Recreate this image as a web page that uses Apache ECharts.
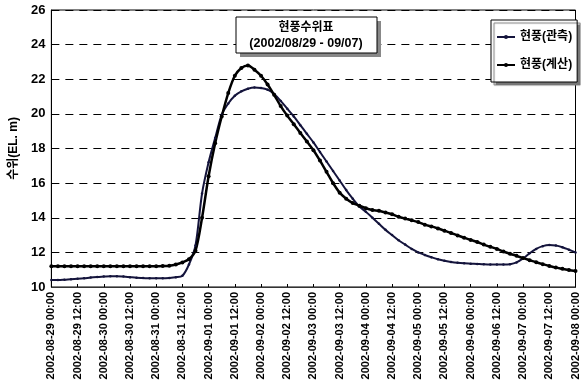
<!DOCTYPE html>
<html><head><meta charset="utf-8">
<script src="https://cdn.jsdelivr.net/npm/echarts@6/dist/echarts.min.js"></script>
<style>html,body{margin:0;padding:0;background:#fff}#c{width:581px;height:390px}</style>
</head><body><div id="c"></div>
<script>
// x-axis tick labels (every 12 hours)
const tickLabels = [
  "2002-08-29 00:00","2002-08-29 12:00","2002-08-30 00:00","2002-08-30 12:00",
  "2002-08-31 00:00","2002-08-31 12:00","2002-09-01 00:00","2002-09-01 12:00",
  "2002-09-02 00:00","2002-09-02 12:00","2002-09-03 00:00","2002-09-03 12:00",
  "2002-09-04 00:00","2002-09-04 12:00","2002-09-05 00:00","2002-09-05 12:00",
  "2002-09-06 00:00","2002-09-06 12:00","2002-09-07 00:00","2002-09-07 12:00",
  "2002-09-08 00:00"
];
// sample times: hours since 2002-08-29 00:00, every 3 hours
const hours = [0,3,6,9,12,15,18,21,24,27,30,33,36,39,42,45,48,51,54,57,60,63,66,69,72,75,78,81,84,87,90,
  93,96,99,102,105,108,111,114,117,120,123,126,129,132,135,138,141,144,147,150,153,156,159,162,165,168,
  171,174,177,180,183,186,189,192,195,198,201,204,207,210,213,216,219,222,225,228,231,234,237,240];
// 현풍(관측) observed stage (EL. m)
const observed = [10.40,10.40,10.42,10.45,10.47,10.50,10.55,10.58,10.60,10.62,10.62,10.60,10.57,10.54,10.52,10.50,10.50,10.50,10.52,10.56,10.65,11.30,12.40,15.40,17.20,18.60,19.95,20.60,21.05,21.30,21.45,
  21.52,21.50,21.40,21.15,20.75,20.30,19.85,19.35,18.85,18.35,17.80,17.25,16.70,16.15,15.60,15.10,14.65,14.35,14.00,13.65,13.30,13.00,12.70,12.45,12.20,12.00,
  11.85,11.72,11.60,11.52,11.45,11.40,11.37,11.35,11.33,11.31,11.30,11.30,11.30,11.32,11.42,11.65,11.95,12.20,12.36,12.42,12.40,12.30,12.15,12.00];
// 현풍(계산) computed stage (EL. m)
const computed = [11.20,11.20,11.20,11.20,11.20,11.20,11.20,11.20,11.20,11.20,11.20,11.20,11.20,11.20,11.20,11.20,11.20,11.21,11.23,11.30,11.42,11.60,12.10,14.00,16.40,18.30,19.85,21.20,22.20,22.65,22.80,
  22.55,22.20,21.70,21.10,20.45,19.90,19.40,18.90,18.40,17.90,17.30,16.65,16.00,15.45,15.10,14.85,14.70,14.55,14.45,14.40,14.30,14.20,14.06,13.95,13.85,13.75,
  13.60,13.50,13.38,13.25,13.12,12.98,12.85,12.72,12.60,12.45,12.32,12.20,12.05,11.92,11.80,11.67,11.55,11.43,11.32,11.22,11.12,11.05,10.98,10.92];

const FONT = "'Liberation Sans','Noto Sans CJK KR',sans-serif";
const pair = arr => hours.map((h, i) => [h, arr[i]]);

const chart = echarts.init(document.getElementById('c'), null, {renderer: 'canvas'});
chart.setOption({
  animation: false,
  backgroundColor: '#fff',
  grid: {left: 48, right: 2, top: 10, bottom: 103, show: true, borderColor: '#000', borderWidth: 1, backgroundColor: 'transparent'},
  xAxis: {
    type: 'value', min: 0, max: 240, interval: 12,
    axisLine: {lineStyle: {color: '#333', width: 1}},
    axisTick: {inside: true, length: 3, lineStyle: {color: '#000'}},
    splitLine: {show: false},
    axisLabel: {
      rotate: 90, fontSize: 11, fontWeight: 'bold', color: '#000', fontFamily: FONT, margin: 5,
      formatter: v => tickLabels[Math.round(v / 12)] || ''
    }
  },
  yAxis: {
    type: 'value', min: 10, max: 26, interval: 2,
    name: '수위(EL. m)', nameLocation: 'middle', nameGap: 31, nameRotate: 90,
    nameTextStyle: {fontSize: 12, fontWeight: 'bold', color: '#000', fontFamily: FONT},
    axisLine: {show: true, lineStyle: {color: '#000', width: 1}},
    axisTick: {show: false},
    axisLabel: {fontSize: 13, fontWeight: 'bold', color: '#000', fontFamily: FONT, margin: 6},
    splitLine: {show: true, lineStyle: {color: '#000', type: [8, 6], width: 1}}
  },
  legend: {
    orient: 'vertical', left: 491, top: 20,
    padding: [11, 5, 11, 5], itemGap: 16, itemWidth: 18, itemHeight: 5,
    backgroundColor: '#fff', borderColor: '#000', borderWidth: 1,
    shadowColor: '#777', shadowBlur: 1, shadowOffsetX: 3, shadowOffsetY: 3,
    textStyle: {fontSize: 12, fontWeight: 'bold', color: '#000', fontFamily: FONT},
    data: ['현풍(관측)', '현풍(계산)']
  },
  graphic: [
    {type: 'rect', shape: {x: 240, y: 21, width: 141, height: 36}, style: {fill: '#888'}, z: 10},
    {type: 'rect', shape: {x: 236, y: 17, width: 141, height: 36}, style: {fill: '#fff', stroke: '#000', lineWidth: 1}, z: 11},
    {type: 'text', x: 306, y: 28, style: {text: '현풍수위표', fontSize: 12, fontWeight: 'bold', fill: '#000', fontFamily: FONT, align: 'center', verticalAlign: 'middle'}, z: 12},
    {type: 'text', x: 306, y: 44, style: {text: '(2002/08/29 - 09/07)', fontSize: 12.5, fontWeight: 'bold', fill: '#000', fontFamily: FONT, align: 'center', verticalAlign: 'middle'}, z: 12}
  ],
  series: [
    {
      name: '현풍(관측)', type: 'line', data: pair(observed), smooth: 0.3,
      symbol: 'circle', symbolSize: 2.5, showSymbol: true,
      lineStyle: {color: '#14143c', width: 2},
      itemStyle: {color: '#14143c'}
    },
    {
      name: '현풍(계산)', type: 'line', data: pair(computed), smooth: 0.3,
      symbol: 'circle', symbolSize: 4, showSymbol: true,
      lineStyle: {color: '#000', width: 2.5},
      itemStyle: {color: '#000'}
    }
  ]
});
</script></body></html>
